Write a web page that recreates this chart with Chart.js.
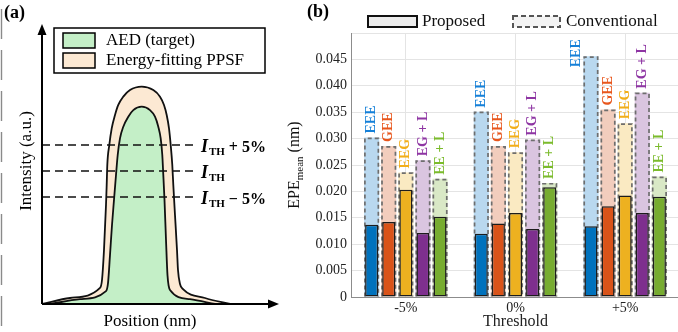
<!DOCTYPE html>
<html>
<head>
<meta charset="utf-8">
<script src="https://cdn.jsdelivr.net/npm/chart.js@4.4.1/dist/chart.umd.min.js"></script>
<style>
  html, body { margin: 0; padding: 0; background: #fff; width: 678px; height: 332px; overflow: hidden; }
  #wrap-a { position: absolute; left: 0; top: 0; }
  #wrap-b { position: absolute; left: 280px; top: 0; }
</style>
</head>
<body>
<div id="wrap-a"><canvas id="panel-a" width="300" height="332"></canvas></div>
<div id="wrap-b"><canvas id="panel-b" width="402" height="332"></canvas></div>
<script>
const SERIF = "'Liberation Serif', 'Times New Roman', Times, serif";

// ---- panel (a): schematic profiles, position (0-100) vs intensity (0-1)
const PPSF_POS = [0, 12.96, 26.85, 27.78, 28.70, 29.63, 29.95, 30.23, 31.16, 32.27, 33.80, 35.32, 37.64, 40.74,
  46.16, 51.53, 54.63, 56.48, 57.73, 58.80, 59.58, 60.32, 60.79, 61.57, 62.50, 62.96, 63.89, 65.28, 75.46, 87.04];
const PPSF_INT = [0, 0.021, 0.056, 0.084, 0.189, 0.346, 0.416, 0.486, 0.556, 0.614, 0.661, 0.696, 0.725, 0.748,
  0.760, 0.748, 0.725, 0.696, 0.661, 0.614, 0.556, 0.486, 0.416, 0.311, 0.189, 0.119, 0.070, 0.052, 0.021, 0];
const AED_POS = [3.70, 17.59, 29.63, 30.56, 31.48, 32.41, 33.33, 34.26, 35.05, 36.11, 37.64, 39.95, 42.27,
  46.16, 50.00, 52.31, 53.84, 54.95, 55.69, 56.16, 56.71, 57.41, 58.10, 59.26, 68.52, 80.09];
const AED_INT = [0, 0.017, 0.045, 0.073, 0.171, 0.276, 0.364, 0.451, 0.521, 0.579, 0.620, 0.655, 0.678,
  0.690, 0.678, 0.655, 0.620, 0.579, 0.521, 0.451, 0.364, 0.224, 0.101, 0.049, 0.017, 0];
const TH_LEVELS = [0.556, 0.465, 0.374];       // I_TH + 5%, I_TH, I_TH - 5%
const TH_SUFFIX = [" + 5%", "", " \u2212 5%"];
const TH_END = 70.8;                             // where the dashed lines stop

// ---- panel (b): EPE_mean per threshold
const THRESHOLDS = ["-5%", "0%", "+5%"];
const METHODS = ["EEE", "GEE", "EEG", "EG + L", "EE + L"];
const PROP_EEE = [0.0137, 0.0120, 0.0134];
const PROP_GEE = [0.0142, 0.0139, 0.0172];
const PROP_EEG = [0.0203, 0.0159, 0.0192];
const PROP_EGL = [0.0121, 0.0129, 0.0159];
const PROP_EEL = [0.0152, 0.0208, 0.0190];
const CONV_EEE = [0.0302, 0.0351, 0.0456];
const CONV_GEE = [0.0286, 0.0286, 0.0355];
const CONV_EEG = [0.0236, 0.0274, 0.0329];
const CONV_EGL = [0.0259, 0.0298, 0.0387];
const CONV_EEL = [0.0224, 0.0216, 0.0228];
const Y_TICKS = [0, 0.005, 0.01, 0.015, 0.02, 0.025, 0.03, 0.035, 0.04, 0.045, 0.05];

const BASE = ["#0072BD", "#D95319", "#EDB120", "#7E2F8E", "#77AC30"];
const LIGHT = ["#b9d8ef", "#f2cdbd", "#faeac2", "#dac5e0", "#d9e8c6"];
const LABEL_COL = ["#1580d8", "#e8561c", "#f2ae1a", "#8e35a3", "#7bbb2c"];

const PROPOSED = [PROP_EEE, PROP_GEE, PROP_EEG, PROP_EGL, PROP_EEL];
const CONVENTIONAL = [CONV_EEE, CONV_GEE, CONV_EEG, CONV_EGL, CONV_EEL];

// ================= panel (a) =================
const toXY = (xs, ys) => xs.map((x, i) => ({ x: x, y: ys[i] }));

const thresholdSets = TH_LEVELS.map(t => ({
  data: [{ x: 0, y: t }, { x: TH_END, y: t }],
  borderColor: "#111", borderWidth: 1.6, borderDash: [8, 5], fill: false, pointRadius: 0
}));

const schematicDeco = {
  id: "schematicDeco",
  afterDraw(chart) {
    const ctx = chart.ctx, a = chart.chartArea;
    const xs = chart.scales.x, ys = chart.scales.y;
    ctx.save();
    // dashed edge on the far left
    ctx.strokeStyle = "#8a8a8a"; ctx.lineWidth = 1.4; ctx.setLineDash([30, 11]);
    ctx.beginPath(); ctx.moveTo(1.5, 9); ctx.lineTo(1.5, 332); ctx.stroke();
    ctx.setLineDash([]);

    // axes with arrows
    ctx.strokeStyle = "#000"; ctx.fillStyle = "#000"; ctx.lineWidth = 2;
    ctx.beginPath();
    ctx.moveTo(a.left, a.bottom); ctx.lineTo(271, a.bottom);
    ctx.moveTo(a.left, a.bottom); ctx.lineTo(a.left, 32);
    ctx.stroke();
    ctx.beginPath(); ctx.moveTo(279, a.bottom); ctx.lineTo(268, a.bottom - 4.5); ctx.lineTo(268, a.bottom + 4.5); ctx.fill();
    ctx.beginPath(); ctx.moveTo(a.left, 24); ctx.lineTo(a.left - 4.5, 35); ctx.lineTo(a.left + 4.5, 35); ctx.fill();

    // legend
    ctx.fillStyle = "#fff"; ctx.lineWidth = 1.5;
    ctx.fillRect(54, 28, 211, 45); ctx.strokeRect(54, 28, 211, 45);
    const items = [[chart.data.datasets[3].backgroundColor, "AED (target)"],
                   [chart.data.datasets[4].backgroundColor, "Energy-fitting PPSF"]];
    ctx.font = "17px " + SERIF; ctx.textBaseline = "middle"; ctx.textAlign = "left";
    items.forEach((it, i) => {
      const y = 33 + i * 20;
      ctx.fillStyle = it[0]; ctx.fillRect(63, y, 32, 15);
      ctx.strokeStyle = "#000"; ctx.strokeRect(63, y, 32, 15);
      ctx.fillStyle = "#000"; ctx.fillText(it[1], 106, y + 8);
    });

    // threshold labels
    TH_LEVELS.forEach((t, i) => {
      let x = xs.getPixelForValue(TH_END) + 6;
      const y = ys.getPixelForValue(t) + 7;
      ctx.textBaseline = "alphabetic";
      ctx.font = "italic bold 18px " + SERIF; ctx.fillText("I", x, y);
      x += ctx.measureText("I").width + 1;
      ctx.font = "bold 11px " + SERIF; ctx.fillText("TH", x, y + 3);
      x += ctx.measureText("TH").width;
      ctx.font = "bold 16px " + SERIF; ctx.fillText(TH_SUFFIX[i], x, y);
    });

    ctx.font = "bold 18px " + SERIF; ctx.textBaseline = "middle";
    ctx.fillText("(a)", 4, 13);
    ctx.restore();
  }
};

new Chart(document.getElementById("panel-a"), {
  type: "line",
  data: {
    datasets: thresholdSets.concat([
      { label: "AED (target)", data: toXY(AED_POS, AED_INT), borderColor: "#111", borderWidth: 1.8,
        backgroundColor: "#c4efc7", fill: "origin", pointRadius: 0, cubicInterpolationMode: "monotone" },
      { label: "Energy-fitting PPSF", data: toXY(PPSF_POS, PPSF_INT), borderColor: "#111", borderWidth: 1.8,
        backgroundColor: "#fce9d3", fill: "origin", pointRadius: 0, cubicInterpolationMode: "monotone" }
    ])
  },
  options: {
    responsive: false, animation: false,
    layout: { padding: { top: 18, right: 42, bottom: 0, left: 0 } },
    plugins: { legend: { display: false }, tooltip: { enabled: false } },
    scales: {
      x: {
        type: "linear", min: 0, max: 100,
        grid: { display: false }, border: { display: false }, ticks: { display: false },
        title: { display: true, text: "Position (nm)", color: "#000", font: { family: SERIF, size: 17 },
                 padding: { top: 0, bottom: 0 } },
        afterFit(s) { s.height = 28; }
      },
      y: {
        min: 0, max: 1,
        grid: { display: false }, border: { display: false }, ticks: { display: false },
        title: { display: true, text: "Intensity (a.u.)", color: "#000", font: { family: SERIF, size: 17 },
                 padding: { top: 16, bottom: 0 } },
        afterFit(s) { s.width = 42; }
      }
    }
  },
  plugins: [schematicDeco]
});

// ================= panel (b) =================
// proposed and conventional bars of one method share a stack slot, so they overlap
const barSets = [];
METHODS.forEach((m, i) => barSets.push({
  label: m, data: PROPOSED[i], stack: m,
  backgroundColor: BASE[i], borderColor: "#1c1c1c", borderWidth: 1.5, borderSkipped: false,
  barPercentage: 0.76, categoryPercentage: 0.78
}));
METHODS.forEach((m, i) => barSets.push({
  label: m + " conventional", data: CONVENTIONAL[i], stack: m, conventional: true,
  backgroundColor: LIGHT[i], borderWidth: 0,
  barPercentage: 0.88, categoryPercentage: 0.78
}));

// dashed outline of the conventional bars (bars have no borderDash option)
const dashedBars = {
  id: "dashedBars",
  afterDatasetDraw(chart, args) {
    const ds = chart.data.datasets[args.index];
    if (!ds.conventional) return;
    const ctx = chart.ctx;
    ctx.save();
    ctx.strokeStyle = "#6e6e6e"; ctx.lineWidth = 1.7; ctx.setLineDash([4, 3]);
    args.meta.data.forEach(el => {
      const l = el.x - el.width / 2 + 0.8, r = el.x + el.width / 2 - 0.8;
      ctx.beginPath();
      ctx.moveTo(l, el.base); ctx.lineTo(l, el.y + 0.8); ctx.lineTo(r, el.y + 0.8); ctx.lineTo(r, el.base);
      ctx.stroke();
    });
    ctx.restore();
  },
  afterDatasetsDraw(chart) {
    const ctx = chart.ctx, top = chart.chartArea.top;
    ctx.save();
    ctx.font = "bold 14px " + SERIF; ctx.textAlign = "left"; ctx.textBaseline = "middle";
    chart.data.datasets.forEach((ds, di) => {
      if (!ds.conventional) return;
      const k = di - METHODS.length;
      chart.getDatasetMeta(di).data.forEach(el => {
        const w = ctx.measureText(METHODS[k]).width;
        ctx.save();
        if (el.y - 4 - w < top + 4) {
          // no room above: set the label beside the bar
          ctx.translate(el.x - el.width / 2 - 7, el.y + 11);
        } else {
          ctx.translate(el.x, el.y - 4);
        }
        ctx.rotate(-Math.PI / 2);
        ctx.fillStyle = LABEL_COL[k];
        ctx.fillText(METHODS[k], 0, 0);
        ctx.restore();
      });
    });
    ctx.restore();
  }
};

const epeDeco = {
  id: "epeDeco",
  afterDraw(chart) {
    const ctx = chart.ctx, a = chart.chartArea;
    ctx.save();
    ctx.fillStyle = "#000"; ctx.textBaseline = "middle"; ctx.textAlign = "left";
    ctx.font = "bold 18px " + SERIF;
    ctx.fillText("(b)", 27, 12);

    // legend
    ctx.font = "17px " + SERIF;
    ctx.fillStyle = "#ececec"; ctx.fillRect(88, 16, 49, 11);
    ctx.strokeStyle = "#111"; ctx.lineWidth = 2; ctx.strokeRect(88, 16, 49, 11);
    ctx.fillStyle = "#111"; ctx.fillText("Proposed", 142, 21.5);
    ctx.fillStyle = "#f3f3f3"; ctx.fillRect(233, 16, 47, 11);
    ctx.strokeStyle = "#555"; ctx.setLineDash([5, 3]); ctx.strokeRect(233, 16, 47, 11);
    ctx.setLineDash([]);
    ctx.fillStyle = "#111"; ctx.fillText("Conventional", 286, 21.5);

    // y title with subscript
    ctx.translate(19, (a.top + a.bottom) / 2);
    ctx.rotate(-Math.PI / 2);
    ctx.textBaseline = "alphabetic";
    const parts = [["EPE", "16px", 0], ["mean", "11px", 4], [" (nm)", "16px", 0]];
    let total = 0;
    parts.forEach(p => { ctx.font = p[1] + " " + SERIF; total += ctx.measureText(p[0]).width; });
    let x = -total / 2;
    parts.forEach(p => {
      ctx.font = p[1] + " " + SERIF;
      ctx.fillText(p[0], x, p[2]);
      x += ctx.measureText(p[0]).width;
    });
    ctx.restore();
  }
};

new Chart(document.getElementById("panel-b"), {
  type: "bar",
  data: { labels: THRESHOLDS, datasets: barSets },
  options: {
    responsive: false, animation: false,
    layout: { padding: { top: 33, right: 2, bottom: 0, left: 0 } },
    plugins: { legend: { display: false }, tooltip: { enabled: false } },
    scales: {
      x: {
        type: "category", offset: true,
        grid: { offset: false, color: "#e4e4e4", drawTicks: false },
        border: { color: "#8c8c8c" },
        ticks: { color: "#222", padding: 3, font: { family: SERIF, size: 14 } },
        title: { display: true, text: "Threshold", color: "#222", font: { family: SERIF, size: 16 },
                 padding: { top: 0, bottom: 1 } },
        afterFit(s) { s.height = 35; }
      },
      y: {
        min: 0, max: 0.05, stacked: false,
        afterBuildTicks(s) { s.ticks = Y_TICKS.map(v => ({ value: v })); },
        grid: { color: "#e4e4e4", drawTicks: false },
        border: { color: "#8c8c8c" },
        ticks: {
          color: "#222", padding: 4, font: { family: SERIF, size: 14 },
          callback: v => (v === 0 ? "0" : (v > 0.0475 ? "" : v.toFixed(3)))
        },
        afterFit(s) { s.width = 71; }
      }
    }
  },
  plugins: [dashedBars, epeDeco]
});
</script>
</body>
</html>
